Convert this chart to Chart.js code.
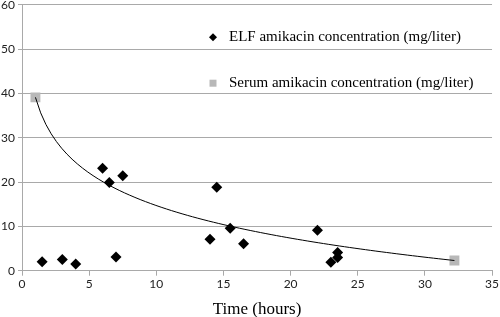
<!DOCTYPE html>
<html>
<head>
<meta charset="utf-8">
<script src="https://cdn.jsdelivr.net/npm/chart.js@4"></script>
<style>
  body { margin: 0; background: #fff; }
  #wrap { position: relative; width: 500px; height: 317px; overflow: hidden; }
  #chart { position: absolute; left: 0; top: -13px; }
</style>
</head>
<body>
<div id="wrap"><canvas id="chart" width="500" height="330"></canvas></div>
<script>
// ELF samples
const elfTime = [1.5, 3, 4, 6, 6.5, 7, 7.5, 14, 14.5, 15.5, 16.5, 22, 23, 23.5, 23.5];
const elfConc = [2.0, 2.5, 1.5, 23.1, 19.9, 3.1, 21.4, 7.1, 18.8, 9.6, 6.1, 9.1, 1.9, 4.1, 3.0];
// serum samples
const serumTime = [1, 32.2];
const serumConc = [39.1, 2.3];

const elfLabel = "ELF amikacin concentration (mg/liter)";
const serumLabel = "Serum amikacin concentration (mg/liter)";
const xTitle = "Time (hours)";

// log trendline on the serum series (y = a + b ln x), like the spreadsheet did
function logFit(xs, ys) {
  const lx = xs.map(Math.log);
  const n = xs.length;
  const mx = lx.reduce((s, v) => s + v, 0) / n;
  const my = ys.reduce((s, v) => s + v, 0) / n;
  let num = 0, den = 0;
  for (let i = 0; i < n; i++) {
    num += (lx[i] - mx) * (ys[i] - my);
    den += (lx[i] - mx) * (lx[i] - mx);
  }
  const b = num / den;
  return { a: my - b * mx, b: b };
}
const fit = logFit(serumTime, serumConc);
const t0 = Math.min(...serumTime), t1 = Math.max(...serumTime);
const trend = [];
for (let i = 0; i <= 80; i++) {
  const t = t0 + (t1 - t0) * i / 80;
  trend.push({ x: t, y: fit.a + fit.b * Math.log(t) });
}

const gridColor = "#a9a9a9";
const tickFont = { family: "Lato", size: 12 };

// legend drawn inside the plot, top right
const insideLegend = {
  id: "insideLegend",
  afterDraw(chart) {
    const ctx = chart.ctx;
    const top = chart.chartArea.top;
    const rows = [
      { ds: 0, y: top + 32.5 },
      { ds: 1, y: top + 78.5 }
    ];
    ctx.save();
    ctx.font = "15px 'Liberation Serif'";
    ctx.textBaseline = "middle";
    rows.forEach(r => {
      const ds = chart.data.datasets[r.ds];
      ctx.fillStyle = ds.backgroundColor;
      ctx.beginPath();
      if (ds.pointStyle === "rectRot") {
        ctx.moveTo(213, r.y - 4); ctx.lineTo(217, r.y); ctx.lineTo(213, r.y + 4); ctx.lineTo(209, r.y);
        ctx.closePath();
      } else {
        ctx.rect(209.5, r.y - 3.5, 7, 7);
      }
      ctx.fill();
      ctx.fillStyle = "#000";
      ctx.fillText(ds.label, 229, r.y);
    });
    ctx.restore();
  }
};

new Chart(document.getElementById("chart"), {
  type: "scatter",
  data: {
    datasets: [
      {
        label: elfLabel,
        data: elfTime.map((t, i) => ({ x: t, y: elfConc[i] })),
        pointStyle: "rectRot",
        backgroundColor: "#000",
        borderColor: "#000",
        borderWidth: 0,
        pointRadius: 5.5,
        order: 1
      },
      {
        label: serumLabel,
        data: serumTime.map((t, i) => ({ x: t, y: serumConc[i] })),
        pointStyle: "rect",
        backgroundColor: "#b8b8b8",
        borderColor: "#b8b8b8",
        borderWidth: 0,
        pointRadius: 7,
        order: 2
      },
      {
        label: "trend",
        type: "line",
        data: trend,
        borderColor: "#000",
        borderWidth: 1,
        pointRadius: 0,
        fill: false,
        order: 0
      }
    ]
  },
  options: {
    responsive: false,
    animation: false,
    layout: { padding: { top: 17.7, right: 7, left: 0, bottom: 0 } },
    plugins: {
      legend: { display: false },
      tooltip: { enabled: false }
    },
    scales: {
      x: {
        type: "linear",
        min: 0,
        max: 35,
        ticks: { stepSize: 5, font: tickFont, color: "#222", padding: 1 },
        grid: { display: true, drawOnChartArea: false, color: gridColor, tickLength: 5 },
        border: { color: gridColor },
        title: {
          display: true,
          text: xTitle,
          font: { family: "Liberation Serif", size: 17, weight: "normal" },
          color: "#000",
          padding: { top: 0, bottom: -3.2 }
        },
        afterFit(scale) { scale.height = 46.3; }
      },
      y: {
        min: 0,
        max: 60,
        ticks: { stepSize: 10, font: tickFont, color: "#222", padding: 3 },
        grid: { color: gridColor, tickLength: 4 },
        border: { color: gridColor },
        afterFit(scale) { scale.width = 22; }
      }
    }
  },
  plugins: [insideLegend]
});
</script>
</body>
</html>
